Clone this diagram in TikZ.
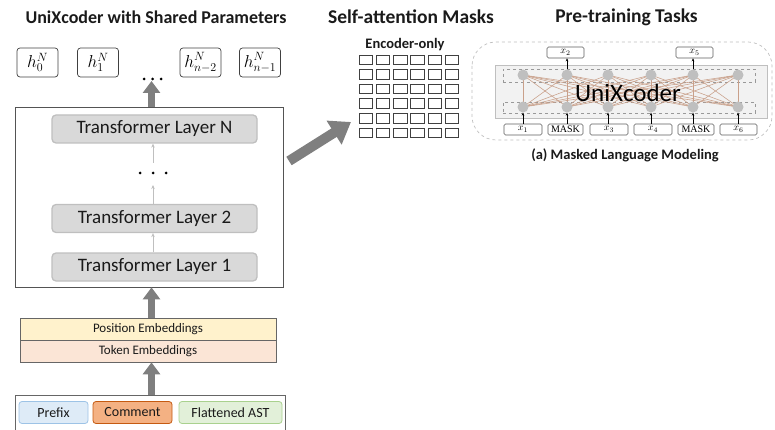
\documentclass[tikz,border=0pt]{standalone}
\usepackage{fontspec}
\setmainfont{Carlito}
\newfontfamily\maskfont{Liberation Serif}
\usetikzlibrary{arrows.meta}
\definecolor{arrowgray}{HTML}{7F7F7F}
\definecolor{layerfill}{HTML}{D9D9D9}
\definecolor{layerdraw}{HTML}{BFBFBF}
\definecolor{posfill}{HTML}{FFF2CC}
\definecolor{tokfill}{HTML}{FBE5D6}
\definecolor{prefill}{HTML}{DEEBF7}
\definecolor{predraw}{HTML}{9DC3E6}
\definecolor{comfill}{HTML}{F4B183}
\definecolor{comdraw}{HTML}{C55A11}
\definecolor{astfill}{HTML}{E2F0D9}
\definecolor{astdraw}{HTML}{A9D18E}
\definecolor{darkline}{HTML}{404040}
\definecolor{tan}{HTML}{C9A08A}
\definecolor{boxgray}{HTML}{F2F2F2}
\definecolor{txt}{HTML}{1A1A1A}
\tikzset{
  titletext/.style={font=\fontsize{19.5}{22}\selectfont\bfseries, inner sep=0pt, text=txt},
  hbox/.style={draw=darkline, line width=0.7pt, rounded corners=3pt, minimum width=41pt, minimum height=29pt, inner sep=0pt, font=\fontsize{17}{19}\selectfont},
  bigarrow/.style={draw=arrowgray, line width=7pt, -{Triangle[length=12pt,width=17pt]}},
  thinarrow/.style={draw=layerdraw, line width=0.8pt, -{Stealth[length=4pt,width=3.5pt]}},
  layerbox/.style={draw=layerdraw, fill=layerfill, line width=1.3pt, rounded corners=4pt, minimum width=205pt, minimum height=28pt, inner sep=0pt, font=\fontsize{19}{21}\selectfont, text=txt},
  embbox/.style={draw=darkline!80, line width=0.7pt, minimum width=256pt, minimum height=22pt, inner sep=0pt, font=\fontsize{13}{15}\selectfont, text=txt},
  segbox/.style={line width=0.8pt, rounded corners=3pt, minimum height=22pt, inner sep=0pt, font=\fontsize{14}{16}\selectfont, text=txt},
  dotnode/.style={circle, fill=black, inner sep=0pt, minimum size=3pt},
  cellbox/.style={draw=darkline, line width=0.6pt, minimum width=13.5pt, minimum height=9.5pt, inner sep=0pt},
  neuron/.style={circle, fill=layerdraw, inner sep=0pt, minimum size=11pt},
  tokbox/.style={draw=darkline!85, line width=0.6pt, rounded corners=1.5pt, minimum height=11pt, inner sep=0pt, font=\fontsize{10}{11}\selectfont},
  smallarrow/.style={draw=black, line width=0.6pt, -{Stealth[length=3pt,width=2.6pt]}},
}
\begin{document}
\begin{tikzpicture}[x=1pt,y=-1pt]
\useasboundingbox (0,0) rectangle (775,430);
\clip (0,0) rectangle (775,430);

% titles
\node[titletext, font=\fontsize{18}{21}\selectfont\bfseries] (t1) at (156,17) {UniXcoder with Shared Parameters};
\node[titletext] (t2) at (411,17) {Self-attention Masks};
\node[titletext] (t3) at (626.5,17) {Pre-training Tasks};

% output hidden states
\node[hbox] (h0) at (37.5,62.5) {$h_0^N$};
\node[hbox] (h1) at (98,62.5) {$h_1^N$};
\node[hbox] (hn2) at (200.5,62.5) {$h_{n-2}^N$};
\node[hbox] (hn1) at (260,62.5) {$h_{n-1}^N$};
\node[dotnode] (hd1) at (144,79) {};
\node[dotnode] (hd2) at (152.5,79) {};
\node[dotnode] (hd3) at (161,79) {};

% main transformer box
\node[draw=darkline!90, line width=0.8pt, minimum width=268pt, minimum height=180pt, inner sep=0pt] (main) at (149,197) {};
\node[layerbox] (LN) at (154.5,129) {Transformer Layer N};
\node[layerbox] (L2) at (154.5,218.5) {Transformer Layer 2};
\node[layerbox] (L1) at (154.5,267) {Transformer Layer 1};
\node[dotnode] (md1) at (140,173) {};
\node[dotnode] (md2) at (153,173) {};
\node[dotnode] (md3) at (166,173) {};
\draw[thinarrow] (L1.north -| md2) -- (L2.south -| md2);
\draw[thinarrow] (L2.north -| md2) -- ([yshift=-12pt]md2.center);
\draw[thinarrow] ([yshift=10pt]md2.center) -- (LN.south -| md2);

% thick arrow to outputs
\coordinate (topTip) at (151.5,81);
\draw[bigarrow] (main.north -| topTip) -- (topTip);

% embeddings
\node[embbox, fill=posfill] (pos) at (148,329) {Position Embeddings};
\node[embbox, fill=tokfill] (tok) at (148,351) {Token Embeddings};
\draw[bigarrow] (pos.north -| topTip) -- (main.south -| topTip);

% input segments
\node[draw=darkline!80, line width=0.7pt, minimum width=270pt, minimum height=60pt, inner sep=0pt] (inp) at (150,425) {};
\node[segbox, draw=predraw, fill=prefill, minimum width=69pt] (pre) at (53.5,412.5) {Prefix};
\node[segbox, draw=comdraw, fill=comfill, minimum width=79pt] (com) at (132.5,412.5) {Comment};
\node[segbox, draw=astdraw, fill=astfill, minimum width=103pt] (ast) at (230.5,412.5) {Flattened AST};
\draw[bigarrow] (inp.north -| topTip) -- (tok.south -| topTip);

% diagonal arrow
\coordinate (dA) at (289,161);
\coordinate (dB) at (351,122);
\draw[draw=arrowgray, line width=10pt, -{Triangle[length=20pt,width=27pt]}] (dA) -- (dB);

% mask grid
\node[font=\fontsize{14.5}{16}\selectfont\bfseries, inner sep=0pt, text=txt] (enc) at (405,45) {Encoder-only};
\foreach \i in {0,...,5} {
  \foreach \j in {0,...,5} {
    \node[cellbox] (cell-\i-\j) at ({365.75+17.2*\i},{59.75+14.6*\j}) {};
  }
}

% pre-training task panel
\draw[draw=layerdraw, dashed, line width=0.7pt, rounded corners=24pt] (472,42) rectangle (772,140);
\node[draw=layerdraw, fill=boxgray, line width=0.7pt, minimum width=272pt, minimum height=53pt, inner sep=0pt] (uni) at (631,91.5) {};
\node[draw=layerdraw!80!black, dashed, line width=0.6pt, minimum width=252pt, minimum height=13pt, inner sep=0pt] (upper) at (629,75.5) {};
\node[draw=layerdraw!80!black, dashed, line width=0.6pt, minimum width=252pt, minimum height=11pt, inner sep=0pt] (lower) at (629,107.5) {};
\foreach \k/\xx in {1/523,2/567,3/608,4/651,5/693,6/738} {
  \coordinate (uc\k) at (\xx,75);
  \coordinate (lc\k) at (\xx,107);
}
\foreach \a in {1,...,6} {
  \foreach \b in {1,...,6} {
    \draw[tan, line width=0.55pt] (lc\a) -- (uc\b);
  }
}
\foreach \k in {1,...,6} {
  \node[neuron] (u\k) at (uc\k) {};
  \node[neuron] (l\k) at (lc\k) {};
}
\node[font=\fontsize{25}{28}\selectfont, inner sep=0pt] (unitext) at (628,93) {UniXcoder};

% input tokens
\node[tokbox, minimum width=38pt] (i1) at (523,129.5) {$x_1$};
\node[tokbox, minimum width=35pt] (i2) at (565.5,129.5) {\maskfont MASK};
\node[tokbox, minimum width=38pt] (i3) at (609,129.5) {$x_3$};
\node[tokbox, minimum width=38pt] (i4) at (653,129.5) {$x_4$};
\node[tokbox, minimum width=36pt] (i5) at (696,129.5) {\maskfont MASK};
\node[tokbox, minimum width=37pt] (i6) at (738.5,129.5) {$x_6$};
\foreach \k in {1,...,6} {
  \draw[smallarrow] (i\k.north -| l\k) -- (l\k.south);
}
% outputs
\node[tokbox, minimum width=37pt] (o2) at (565.5,52.5) {$x_2$};
\node[tokbox, minimum width=37pt] (o5) at (694.5,52.5) {$x_5$};
\draw[smallarrow] (u2.north) -- (o2.south -| u2);
\draw[smallarrow] (u5.north) -- (o5.south -| u5);

\node[font=\fontsize{14.5}{16}\selectfont\bfseries, inner sep=0pt, text=txt] (cap) at (625,155) {(a) Masked Language Modeling};
\end{tikzpicture}
\end{document}
